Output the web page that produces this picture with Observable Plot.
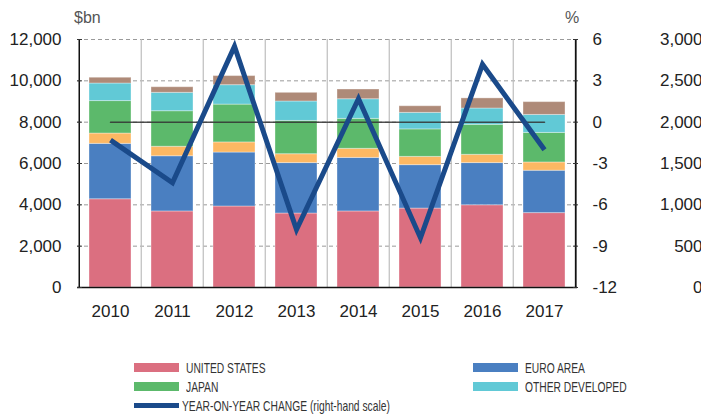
<!DOCTYPE html>
<html>
<head>
<meta charset="utf-8">
<script src="https://cdn.jsdelivr.net/npm/d3@7"></script>
<script src="https://cdn.jsdelivr.net/npm/@observablehq/plot@0.6"></script>
<style>
  html, body { margin: 0; padding: 0; background: #fff; }
  #wrap { position: relative; width: 701px; height: 417px; overflow: hidden; font-family: "Liberation Sans", Arial, sans-serif; }
  .unit { position: absolute; font-size: 16px; color: #555; line-height: 1; }
  .lg { position: absolute; height: 20px; display: flex; align-items: center; }
  .sw { width: 45px; height: 9px; margin-right: 7px; flex: none; }
  .lt { font-size: 15px; color: #333; white-space: nowrap; display: inline-block; transform: scaleX(0.685); transform-origin: left center; }
</style>
</head>
<body>
<div id="wrap">
  <div id="chart"></div>
  <div class="unit" style="left:74px; top:10px;">$bn</div>
  <div class="unit" style="left:565px; top:10px;">%</div>
  <div id="legend"></div>
</div>
<script>
// ---- data ----
const years = ["2010", "2011", "2012", "2013", "2014", "2015", "2016", "2017"];
const unitedStates   = [4270, 3680, 3920, 3580, 3680, 3820, 3980, 3600];
const euroArea       = [2680, 2670, 2610, 2440, 2590, 2100, 2040, 2050];
const seriesOrange   = [500, 460, 490, 430, 440, 400, 400, 400];
const japan          = [1570, 1720, 1830, 1610, 1450, 1330, 1450, 1430];
const otherDeveloped = [850, 890, 940, 940, 950, 800, 790, 870];
const seriesBrown    = [280, 270, 440, 420, 470, 320, 490, 620];
const yoyChange      = [-1.3, -4.4, 5.5, -7.8, 1.7, -8.4, 4.2, -2.0];

const seriesNames = ["UNITED STATES", "EURO AREA", "SERIES 3", "JAPAN", "OTHER DEVELOPED", "SERIES 6"];
const seriesValues = [unitedStates, euroArea, seriesOrange, japan, otherDeveloped, seriesBrown];
const leftTicks = [0, 2000, 4000, 6000, 8000, 10000, 12000];
const pctTicks = [-12, -9, -6, -3, 0, 3, 6];
const farTicks = [0, 500, 1000, 1500, 2000, 2500, 3000];
const yoyLabel = "YEAR-ON-YEAR CHANGE (right-hand scale)";

// ---- styles ----
const seriesColors = ["#db6f80", "#4a7fc1", "#fdb863", "#5cb96b", "#61c9d6", "#ae8a78"];
const lineColor = "#1a4a8a";

// mappings of secondary scales onto the left ($bn) scale
const pctToLeft = p => (p + 12) * 12000 / 18;
const farToLeft = v => v * 4;

const rows = [];
seriesNames.forEach((name, i) => {
  years.forEach((y, j) => rows.push({ year: y, series: name, value: seriesValues[i][j] }));
});
const yoy = years.map((y, i) => ({ year: y, pct: yoyChange[i] }));

const W = 701, H = 335, mL = 77, mR = 124, mT = 39, mB = 48;
const step = (W - mL - mR) / years.length;
const font = "Liberation Sans, Arial, sans-serif";

const chart = Plot.plot({
  width: W, height: H,
  marginLeft: mL, marginRight: mR, marginTop: mT, marginBottom: mB,
  style: { fontFamily: font, fontSize: "17px", color: "#222", background: "white", overflow: "visible" },
  x: { domain: years, paddingInner: 0.328, paddingOuter: 0.164, axis: null },
  y: { domain: [0, 12000], axis: null },
  color: { domain: seriesNames, range: seriesColors },
  marks: [
    Plot.gridY({ ticks: leftTicks.slice(1), stroke: "#9a9a9a", strokeOpacity: 1, strokeDasharray: "4,3", strokeWidth: 1 }),
    Plot.ruleX(years.slice(1), { x: d => d, dx: -step / 2, stroke: "#bdbdbd", strokeWidth: 1.2 }),
    Plot.barY(rows, { x: "year", y: "value", fill: "series", order: seriesNames, stroke: "white", strokeOpacity: 0.35, strokeWidth: 1 }),
    Plot.line(years, { x: d => d, y: () => pctToLeft(0), stroke: "#333", strokeWidth: 1.5, strokeOpacity: 0.85 }),
    Plot.line(yoy, { x: "year", y: d => pctToLeft(d.pct), stroke: lineColor, strokeWidth: 5, strokeLinejoin: "miter", strokeLinecap: "butt", strokeMiterlimit: 10 }),
    // frame lines
    Plot.ruleX([years[0]], { x: d => d, dx: -step / 2, stroke: "#111", strokeWidth: 1.5 }),
    Plot.ruleX([years[years.length - 1]], { x: d => d, dx: step / 2, stroke: "#111", strokeWidth: 1.8 }),
    Plot.ruleY([0], { stroke: "#111", strokeWidth: 1.5 }),
    // inward ticks
    Plot.axisY({ anchor: "left", ticks: leftTicks, tickSize: 5, dx: 5, text: null, label: null, stroke: "#333" }),
    Plot.axisY({ anchor: "right", ticks: pctTicks.map(pctToLeft), tickSize: 5, dx: -5, text: null, label: null, stroke: "#333" }),
    // labels
    Plot.axisY({ anchor: "left", ticks: leftTicks, tickSize: 0, tickPadding: 16, label: null, tickFormat: d3.format(","), fontSize: 17, fill: "#222" }),
    Plot.axisY({ anchor: "right", ticks: pctTicks.map(pctToLeft), tickSize: 0, tickPadding: 15, label: null, tickFormat: d => String(Math.round(d * 18 / 12000 - 12)), fontSize: 17, fill: "#222" }),
    Plot.axisY({ anchor: "right", ticks: farTicks.map(farToLeft), tickSize: 0, tickPadding: 0, dx: 125, label: null, textAnchor: "end", tickFormat: d => d3.format(",")(d / 4), fontSize: 17, fill: "#222" }),
    Plot.axisX({ tickSize: 0, tickPadding: 17, label: null, fontSize: 17, fill: "#222" })
  ]
});
document.getElementById("chart").appendChild(chart);

// ---- legend ----
const legendItems = [
  { label: seriesNames[0], color: seriesColors[0], left: 134, top: 357, h: 9 },
  { label: seriesNames[3], color: seriesColors[3], left: 134, top: 376.5, h: 9 },
  { label: yoyLabel, color: lineColor, left: 134, top: 395.5, h: 5, gap: 3 },
  { label: seriesNames[1], color: seriesColors[1], left: 472.7, top: 357, h: 9 },
  { label: seriesNames[4], color: seriesColors[4], left: 472.7, top: 376.5, h: 9 }
];
const lg = document.getElementById("legend");
legendItems.forEach(it => {
  const d = document.createElement("div");
  d.className = "lg";
  d.style.left = it.left + "px";
  d.style.top = it.top + "px";
  const s = document.createElement("div");
  s.className = "sw";
  s.style.background = it.color;
  s.style.height = it.h + "px";
  if (it.gap !== undefined) s.style.marginRight = it.gap + "px";
  const t = document.createElement("span");
  t.className = "lt";
  t.textContent = it.label;
  d.appendChild(s); d.appendChild(t);
  lg.appendChild(d);
});
</script>
</body>
</html>
